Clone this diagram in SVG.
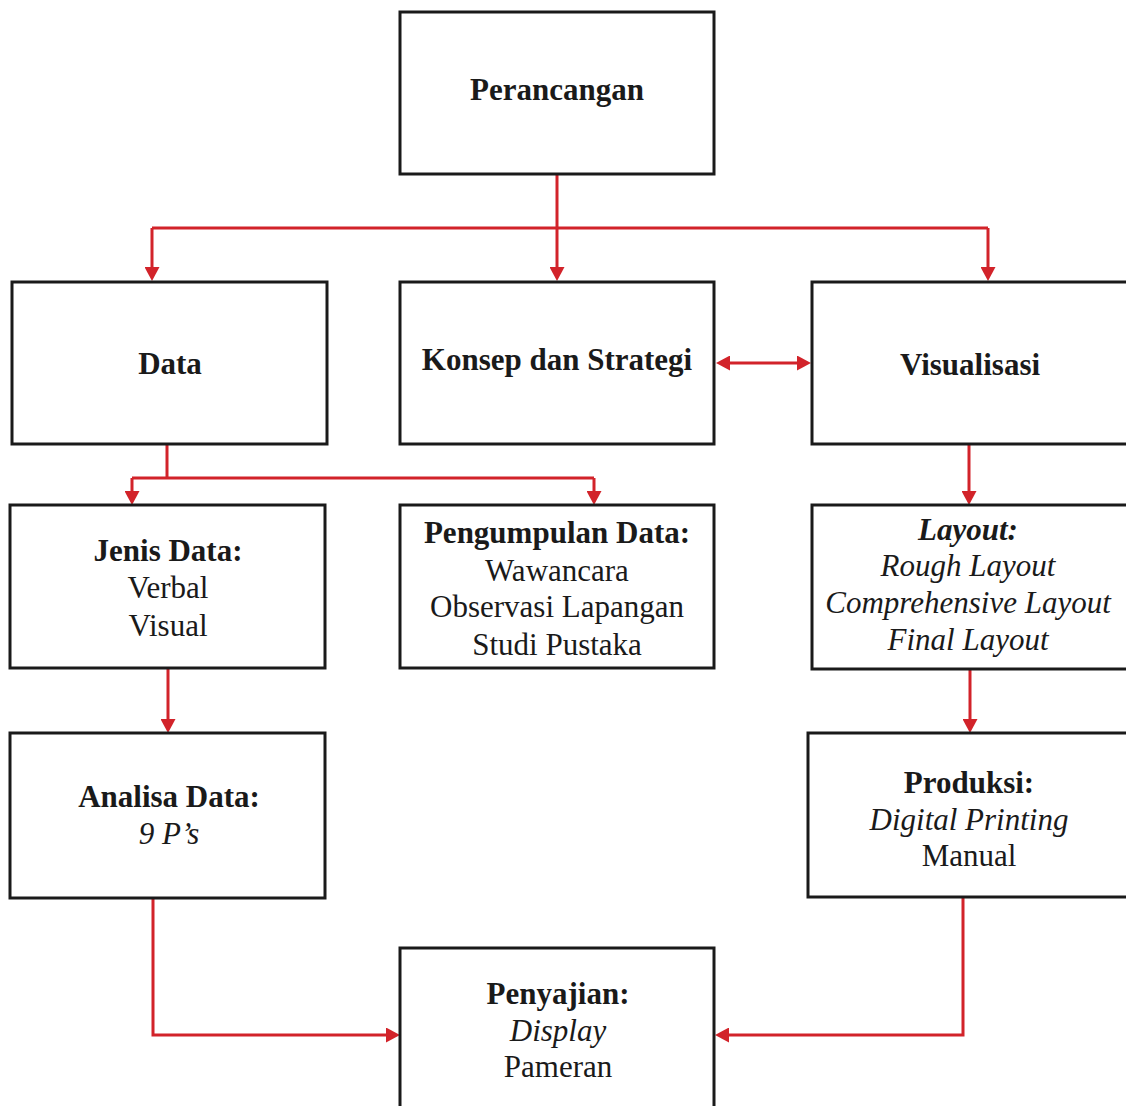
<svg xmlns="http://www.w3.org/2000/svg" width="1126" height="1106" viewBox="0 0 1126 1106">
<style>
.box{fill:#fff;stroke:#1a1a1a;stroke-width:3}
text{font-family:"Liberation Serif","Times New Roman",serif;font-size:31px;fill:#1a1a1a;text-anchor:middle}
.b{font-weight:bold}
.i{font-style:italic}
.c{fill:none;stroke:#d2232a;stroke-width:3}
.a{marker-end:url(#ah)}
</style>
<defs>
<marker id="ah" markerUnits="userSpaceOnUse" viewBox="0 0 14 15" markerWidth="14" markerHeight="15" refX="7" refY="7.5" orient="auto-start-reverse">
<path d="M0,0 L14,7.5 L0,15 Z" fill="#d2232a"/>
</marker>
</defs>
<rect width="1126" height="1106" fill="#fff"/>
<g id="connectors">
<path class="c a" d="M557,175 V274"/>
<path class="c" d="M152,228 H988"/>
<path class="c a" d="M152,228 V274"/>
<path class="c a" d="M988,228 V274"/>
<path class="c" d="M723,363 H804" marker-start="url(#ah)" marker-end="url(#ah)"/>
<path class="c" d="M167,445 V478"/>
<path class="c" d="M132,478 H594"/>
<path class="c a" d="M132,478 V498"/>
<path class="c a" d="M594,478 V498"/>
<path class="c a" d="M969,445 V498"/>
<path class="c a" d="M168,669 V726"/>
<path class="c a" d="M970,670 V726"/>
<path class="c a" d="M153,898 V1035 H393"/>
<path class="c a" d="M963,897 V1035 H722"/>
</g>
<g id="perancangan">
<rect class="box" x="400" y="12" width="314" height="162"/>
<text class="b" x="557" y="100">Perancangan</text>
</g>
<g id="data">
<rect class="box" x="12" y="282" width="315" height="162"/>
<text class="b" x="170" y="374">Data</text>
</g>
<g id="konsep">
<rect class="box" x="400" y="282" width="314" height="162"/>
<text class="b" x="557" y="370">Konsep dan Strategi</text>
</g>
<g id="visualisasi">
<rect class="box" x="812" y="282" width="318" height="162"/>
<text class="b" x="970" y="375">Visualisasi</text>
</g>
<g id="jenis-data">
<rect class="box" x="10" y="505" width="315" height="163"/>
<text class="b" x="168" y="561">Jenis Data:</text>
<text x="168" y="598">Verbal</text>
<text x="168" y="636">Visual</text>
</g>
<g id="pengumpulan-data">
<rect class="box" x="400" y="505" width="314" height="163"/>
<text class="b" x="557" y="543">Pengumpulan Data:</text>
<text x="557" y="581">Wawancara</text>
<text x="557" y="617">Observasi Lapangan</text>
<text x="557" y="655">Studi Pustaka</text>
</g>
<g id="layout">
<rect class="box" x="812" y="505" width="318" height="164"/>
<text class="b i" x="968" y="540">Layout:</text>
<text class="i" x="968" y="576">Rough Layout</text>
<text class="i" x="968" y="613">Comprehensive Layout</text>
<text class="i" x="968" y="650">Final Layout</text>
</g>
<g id="analisa-data">
<rect class="box" x="10" y="733" width="315" height="165"/>
<text class="b" x="169" y="807">Analisa Data:</text>
<text class="i" x="169" y="844">9 P’s</text>
</g>
<g id="produksi">
<rect class="box" x="808" y="733" width="322" height="164"/>
<text class="b" x="969" y="793">Produksi:</text>
<text class="i" x="969" y="830">Digital Printing</text>
<text x="969" y="866">Manual</text>
</g>
<g id="penyajian">
<rect class="box" x="400" y="948" width="314" height="170"/>
<text class="b" x="558" y="1004">Penyajian:</text>
<text class="i" x="558" y="1041">Display</text>
<text x="558" y="1077">Pameran</text>
</g>
</svg>
